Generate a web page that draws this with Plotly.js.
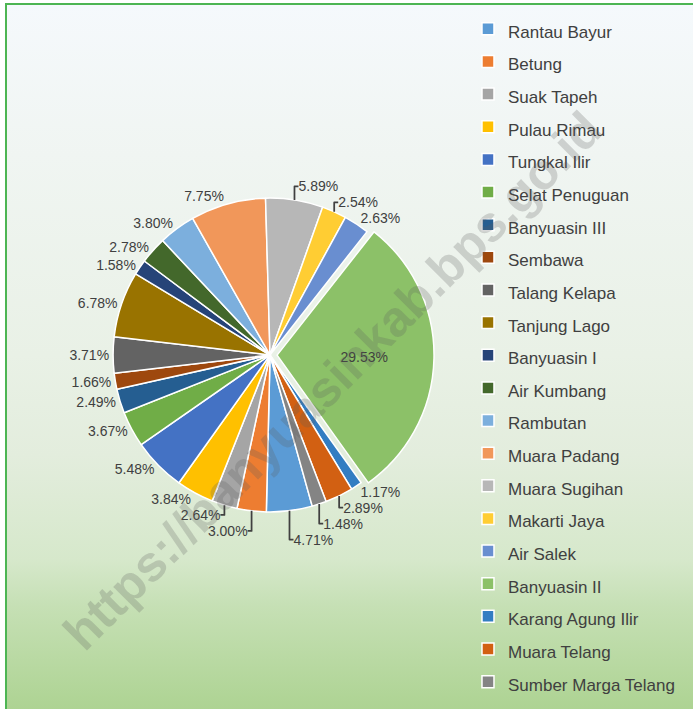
<!DOCTYPE html>
<html>
<head>
<meta charset="utf-8">
<script src="https://cdn.plot.ly/plotly-3.0.1.min.js"></script>
<style>
  html, body { margin: 0; padding: 0; background: #ffffff; }
  #wrap { position: relative; width: 693px; height: 709px; overflow: hidden; background: #ffffff; }
  #bg {
    position: absolute; left: 5px; top: 3px; width: 720px; height: 740px;
    border-left: 2px solid #4DB553; border-top: 2px solid #4DB553;
    background: linear-gradient(to bottom,
      #F5F9FC 0px, #F0F5F2 150px, #E9F1E6 350px, #E3EDDD 450px,
      #D6E8CB 555px, #C6E0B5 600px, #ADD392 706px, #A9D18E 740px);
  }
  #chart { position: absolute; left: 0; top: 0; width: 693px; height: 709px; }
</style>
</head>
<body>
<div id="wrap">
  <div id="bg"></div>
  <div id="chart"></div>
</div>
<script>
const districts = [
  "Rantau Bayur", "Betung", "Suak Tapeh", "Pulau Rimau", "Tungkal Ilir",
  "Selat Penuguan", "Banyuasin III", "Sembawa", "Talang Kelapa", "Tanjung Lago",
  "Banyuasin I", "Air Kumbang", "Rambutan", "Muara Padang", "Muara Sugihan",
  "Makarti Jaya", "Air Salek", "Banyuasin II", "Karang Agung Ilir", "Muara Telang",
  "Sumber Marga Telang"
];
const shares = [
  4.71, 3.00, 2.64, 3.84, 5.48,
  3.67, 2.49, 1.66, 3.71, 6.78,
  1.58, 2.78, 3.80, 7.75, 5.89,
  2.54, 2.63, 29.53, 1.17, 2.89,
  1.48
];
const sliceColors = [
  "#5B9BD5", "#ED7D31", "#A5A5A5", "#FFC000", "#4472C4",
  "#70AD47", "#255E91", "#9E480E", "#636363", "#997300",
  "#264478", "#43682B", "#7CAFDD", "#F1975A", "#B7B7B7",
  "#FFCD33", "#698ED0", "#8CC168", "#327DC2", "#D26012",
  "#848484"
];
const explodedName = "Banyuasin II";

const legendLabels = districts.map(n => '<span style="font-size:17px">' + n + '</span>');
const pulls = districts.map(n => n === explodedName ? 0.045 : 0);
const positions = districts.map(n => n === explodedName ? 'inside' : 'outside');

const trace = {
  type: 'pie',
  labels: legendLabels,
  values: shares,
  sort: false,
  direction: 'clockwise',
  rotation: 164.4,
  pull: pulls,
  marker: { colors: sliceColors, line: { color: '#FFFFFF', width: 1.5 } },
  textinfo: 'text',
  text: shares.map(v => v.toFixed(2) + '%'),
  textposition: positions,
  insidetextorientation: 'horizontal',
  textfont: { family: 'Liberation Sans, Arial, sans-serif', size: 14, color: '#404040' },
  insidetextfont: { family: 'Liberation Sans, Arial, sans-serif', size: 14, color: '#404040' },
  outsidetextfont: { family: 'Liberation Sans, Arial, sans-serif', size: 14, color: '#404040' },
  automargin: false,
  hoverinfo: 'label+text',
  domain: { x: [0.1530, 0.6263], y: [0.2680, 0.7306] }
};

const layout = {
  width: 693, height: 709,
  margin: { l: 0, r: 0, t: 0, b: 0 },
  paper_bgcolor: 'rgba(0,0,0,0)',
  plot_bgcolor: 'rgba(0,0,0,0)',
  font: { family: 'Liberation Sans, Arial, sans-serif', color: '#404040' },
  showlegend: true,
  legend: {
    x: 0.6753, xanchor: 'left',
    y: 0.9894, yanchor: 'top',
    font: { size: 22.8, color: '#404040', family: 'Liberation Sans, Arial, sans-serif' },
    bgcolor: 'rgba(0,0,0,0)',
    traceorder: 'normal'
  },
  annotations: [{
    text: '<b>https://banyuasinkab.bps.go.id</b>',
    xref: 'paper', yref: 'paper',
    x: 0.480, y: 0.462,
    showarrow: false,
    textangle: -45,
    font: { family: 'Liberation Sans, Arial, sans-serif', size: 50, color: 'rgba(90,90,90,0.24)' }
  }]
};

Plotly.newPlot('chart', [trace], layout, { displayModeBar: false, staticPlot: true });
</script>
</body>
</html>
